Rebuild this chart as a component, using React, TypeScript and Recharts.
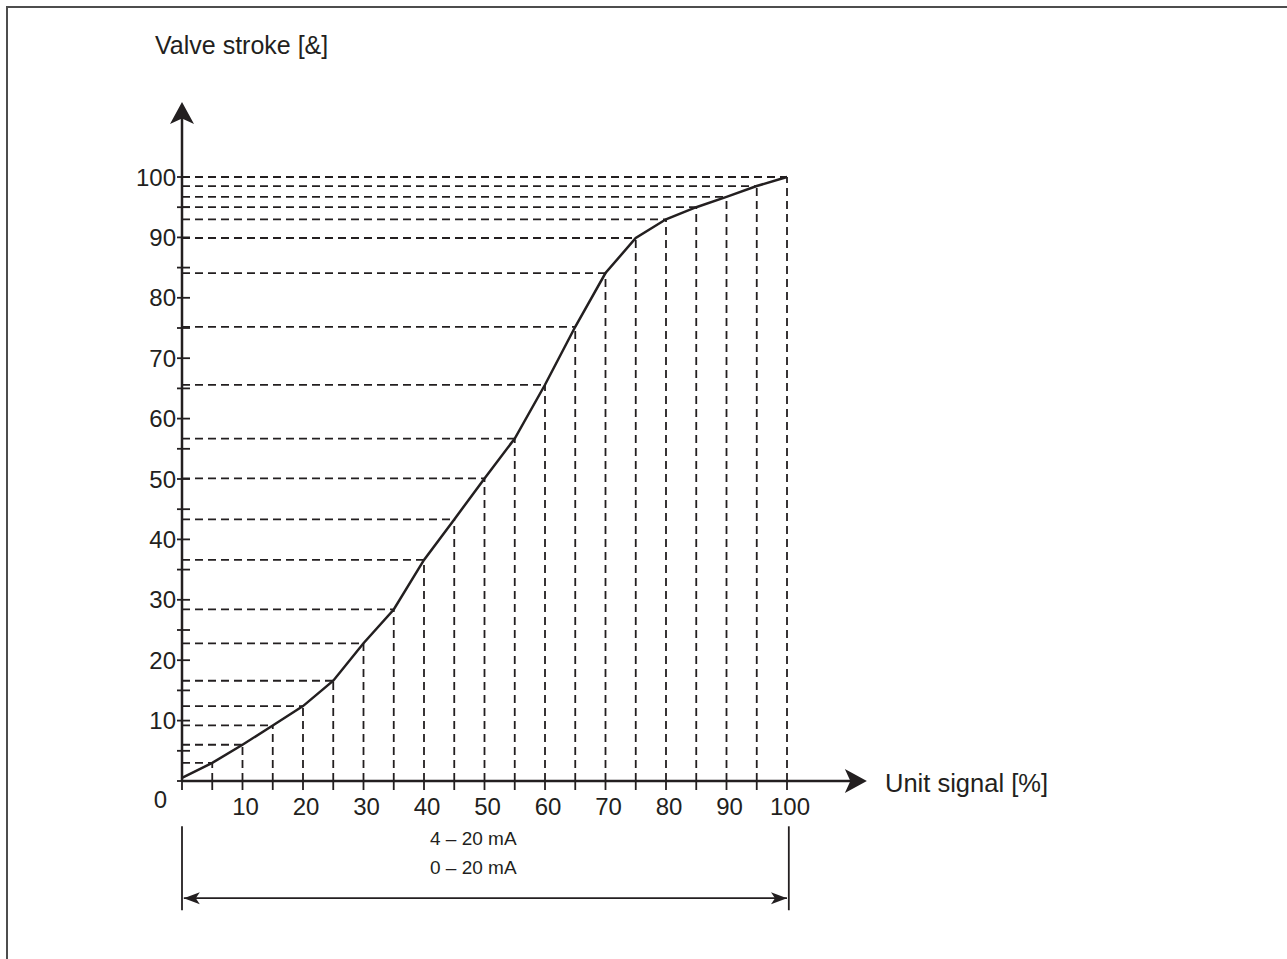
import React from 'react';
import { LineChart, Line, XAxis, YAxis, ReferenceLine, Customized } from 'recharts';

// unit signal [%] at each guide, and the valve stroke
const signal = [0, 5, 10, 15, 20, 25, 30, 35, 40, 45, 50, 55, 60, 65, 70, 75, 80, 85, 90, 95, 100];
const stroke = [0.5, 3.0, 6.0, 9.2, 12.4, 16.6, 22.8, 28.4, 36.6, 43.3, 50.1, 56.7, 65.6, 75.2, 84.1, 89.9, 93.0, 95.0, 96.7, 98.5, 100];

const xTicks = [0, 5, 10, 15, 20, 25, 30, 35, 40, 45, 50, 55, 60, 65, 70, 75, 80, 85, 90, 95, 100];
const yTicks = [0, 5, 10, 15, 20, 25, 30, 35, 40, 45, 50, 55, 60, 65, 70, 75, 80, 85, 90, 95, 100];

const rangeLabels = ['4 – 20 mA', '0 – 20 mA'];

const data = signal.map((s, i) => ({ signal: s, stroke: stroke[i] }));

const INK = '#231f20';
const FONT = '"Liberation Sans", Arial, Helvetica, sans-serif';

// arrow head drawn at (tx, ty) pointing along angle a
function head(tx: number, ty: number, a: number, len: number, half: number) {
  const cos = Math.cos(a);
  const sin = Math.sin(a);
  const bx = tx - cos * len;
  const by = ty - sin * len;
  const nx = tx - cos * len * 0.75;
  const ny = ty - sin * len * 0.75;
  const pts = [
    [tx, ty],
    [bx - sin * half, by + cos * half],
    [nx, ny],
    [bx + sin * half, by - cos * half],
  ];
  return <polygon points={pts.map((p) => p.join(',')).join(' ')} fill={INK} />;
}

const axisArrow = (p: any) => {
  const { x1, y1, x2, y2 } = p;
  const a = Math.atan2(y2 - y1, x2 - x1);
  return (
    <g>
      <line x1={x1} y1={y1} x2={x2 - Math.cos(a) * 14} y2={y2 - Math.sin(a) * 14} stroke={INK} strokeWidth={2.5} />
      {head(x2, y2, a, 22, 12)}
    </g>
  );
};

const doubleArrow = (p: any) => {
  const { x1, y1, x2, y2 } = p;
  const a = Math.atan2(y2 - y1, x2 - x1);
  return (
    <g>
      <line x1={x1} y1={y1} x2={x2} y2={y2} stroke={INK} strokeWidth={1.8} />
      {head(x2, y2, a, 16, 6)}
      {head(x1, y1, a + Math.PI, 16, 6)}
    </g>
  );
};

const YTick = (p: any) => {
  const { x, y, payload } = p;
  const v = payload.value;
  return (
    <g>
      <line x1={x - 5} x2={x + 8} y1={y} y2={y} stroke={INK} strokeWidth={1.8} />
      {v % 10 === 0 && v > 0 && (
        <text x={x - 6} y={y + 8.5} textAnchor="end" fontSize={24} fontFamily={FONT} fill={INK}>
          {v}
        </text>
      )}
      {v === 0 && (
        <text x={x - 15} y={y + 27} textAnchor="end" fontSize={24} fontFamily={FONT} fill={INK}>
          0
        </text>
      )}
    </g>
  );
};

const XTick = (p: any) => {
  const { x, y, payload } = p;
  const v = payload.value;
  return (
    <g>
      <line x1={x} x2={x} y1={y} y2={y + 9} stroke={INK} strokeWidth={1.8} />
      {v % 10 === 0 && v > 0 && (
        <text x={x + 3} y={y + 34} textAnchor="middle" fontSize={24} fontFamily={FONT} fill={INK}>
          {v}
        </text>
      )}
    </g>
  );
};

const Titles = () => (
  <g fontFamily={FONT} fill={INK}>
    <text x={155} y={54} fontSize={25}>Valve stroke [&amp;]</text>
    <text x={885} y={792} fontSize={25.5}>Unit signal [%]</text>
    <text x={430} y={845} fontSize={19}>{rangeLabels[0]}</text>
    <text x={430} y={874} fontSize={19}>{rangeLabels[1]}</text>
  </g>
);

export default function App() {
  return (
    <div style={{ position: 'absolute', left: 0, top: 0, width: 1287, height: 959, overflow: 'hidden', background: '#fff' }}>
      <div style={{ position: 'absolute', left: 6, top: 6, width: 1320, height: 1000, border: '2px solid #4d4d4d' }} />
      <div style={{ position: 'absolute', left: 0, top: 0 }}>
        <LineChart width={1287} height={959} data={data} margin={{ top: 177, right: 500, bottom: 177, left: 181 }}>
          <XAxis
            dataKey="signal"
            type="number"
            domain={[0, 100]}
            ticks={xTicks}
            interval={0}
            height={1}
            tickSize={0}
            tickMargin={0}
            axisLine={false}
            tickLine={false}
            tick={<XTick />}
          />
          <YAxis
            type="number"
            domain={[0, 100]}
            ticks={yTicks}
            interval={0}
            width={1}
            tickSize={0}
            tickMargin={0}
            axisLine={false}
            tickLine={false}
            tick={<YTick />}
          />
          {data.slice(1).map((d) => (
            <ReferenceLine
              key={'h' + d.signal}
              segment={[{ x: 0, y: d.stroke }, { x: d.signal, y: d.stroke }]}
              stroke={INK}
              strokeWidth={1.8}
              strokeDasharray="8 5"
              ifOverflow="visible"
            />
          ))}
          {data.slice(1).map((d) => (
            <ReferenceLine
              key={'v' + d.signal}
              segment={[{ x: d.signal, y: 0 }, { x: d.signal, y: d.stroke }]}
              stroke={INK}
              strokeWidth={1.8}
              strokeDasharray="8 5"
              ifOverflow="visible"
            />
          ))}
          <ReferenceLine segment={[{ x: 0, y: 0 }, { x: 113.2, y: 0 }]} ifOverflow="visible" shape={axisArrow} />
          <ReferenceLine segment={[{ x: 0, y: 0 }, { x: 0, y: 112.4 }]} ifOverflow="visible" shape={axisArrow} />
          <ReferenceLine segment={[{ x: 0, y: -7.5 }, { x: 0, y: -21.4 }]} ifOverflow="visible" stroke={INK} strokeWidth={1.8} />
          <ReferenceLine segment={[{ x: 100.3, y: -7.5 }, { x: 100.3, y: -21.4 }]} ifOverflow="visible" stroke={INK} strokeWidth={1.8} />
          <ReferenceLine segment={[{ x: 0.3, y: -19.4 }, { x: 100, y: -19.4 }]} ifOverflow="visible" shape={doubleArrow} />
          <Line
            dataKey="stroke"
            type="linear"
            stroke={INK}
            strokeWidth={2.5}
            dot={false}
            isAnimationActive={false}
          />
          <Customized component={Titles} />
        </LineChart>
      </div>
    </div>
  );
}
